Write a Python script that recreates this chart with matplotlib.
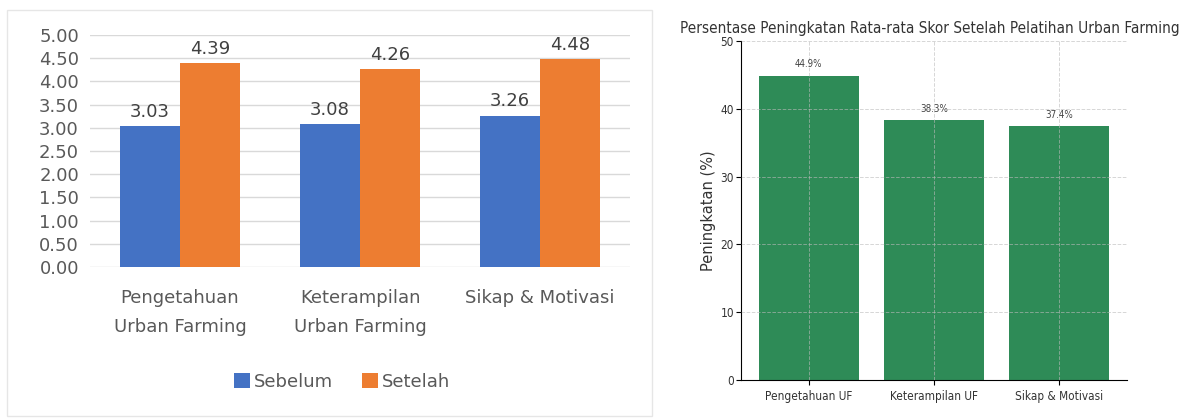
import matplotlib
matplotlib.use("Agg")
import matplotlib.pyplot as plt
from matplotlib.patches import Rectangle

# left chart: average score before / after
categories_left = ["Pengetahuan\nUrban Farming", "Keterampilan\nUrban Farming", "Sikap & Motivasi"]
sebelum = [3.03, 3.08, 3.26]
setelah = [4.39, 4.26, 4.48]
yticks_left = [0.0, 0.5, 1.0, 1.5, 2.0, 2.5, 3.0, 3.5, 4.0, 4.5, 5.0]

# right chart: percentage increase
categories_right = ["Pengetahuan UF", "Keterampilan UF", "Sikap & Motivasi"]
peningkatan = [44.9, 38.3, 37.4]

W, H = 1189, 418
fig = plt.figure(figsize=(W / 100, H / 100), dpi=100)


def box(x0, y0, x1, y1):
    # pixel box (top-left origin) -> figure fraction rect
    return [x0 / W, 1 - y1 / H, (x1 - x0) / W, (y1 - y0) / H]


# ---- left panel (Excel style) ----
fig.patches.append(Rectangle((7 / W, 1 - 416 / H), 645 / W, 406 / H,
                             transform=fig.transFigure, fill=False,
                             edgecolor="#E6E6E6", linewidth=1.0))

xfont = "DejaVu Sans"
grey = "#595959"
ax1 = fig.add_axes(box(90, 35, 630, 267))
x = range(len(categories_left))
bw = 0.333
b1 = ax1.bar([i - bw / 2 for i in x], sebelum, bw, color="#4472C4", label="Sebelum", zorder=3)
b2 = ax1.bar([i + bw / 2 for i in x], setelah, bw, color="#ED7D31", label="Setelah", zorder=3)
for bars, vals in ((b1, sebelum), (b2, setelah)):
    for r, v in zip(bars, vals):
        ax1.annotate(f"{v:.2f}", (r.get_x() + r.get_width() / 2, v),
                     xytext=(0, 4), textcoords="offset points",
                     ha="center", va="bottom", fontsize=13, color="#404040",
                     family=xfont)
ax1.set_xlim(-0.5, 2.5)
ax1.set_ylim(0, 5)
ax1.set_yticks(yticks_left)
ax1.set_yticklabels([f"{v:.2f}" for v in yticks_left], fontsize=13, color=grey, family=xfont)
ax1.set_xticks(list(x))
ax1.set_xticklabels(categories_left, fontsize=13, color=grey, family=xfont, linespacing=1.75)
ax1.tick_params(axis="both", length=0)
ax1.tick_params(axis="x", pad=16)
ax1.tick_params(axis="y", pad=8)
ax1.grid(axis="y", color="#D9D9D9", linewidth=1.0, zorder=0)
for s in ax1.spines.values():
    s.set_visible(False)

fig.legend(handles=[b1, b2], loc="center", bbox_to_anchor=(342 / W, 1 - 382 / H),
           ncol=2, frameon=False, handlelength=0.9, handleheight=0.9,
           handletextpad=0.2, columnspacing=1.6,
           prop={"family": xfont, "size": 13}, labelcolor=grey)

# ---- right panel (matplotlib style) ----
cfont = {"family": "DejaVu Sans", "stretch": "condensed"}
ax2 = fig.add_axes(box(741, 41, 1127, 380))
bars = ax2.bar(categories_right, peningkatan, color="#2E8B57", width=0.8)
for r, v in zip(bars, peningkatan):
    ax2.text(r.get_x() + r.get_width() / 2, v + 1, f"{v}%", ha="center", va="bottom",
             fontsize=7, color="#444444", **cfont)
ax2.set_ylim(0, 50)
ax2.set_yticks([0, 10, 20, 30, 40, 50])
ax2.set_title("Persentase Peningkatan Rata-rata Skor Setelah Pelatihan Urban Farming",
              fontsize=11, color="#333333", pad=6, x=0.49, **cfont)
ax2.set_ylabel("Peningkatan (%)", fontsize=10.5, color="#333333")
ax2.yaxis.set_label_coords(-0.065, 0.5)
for lab in ax2.get_xticklabels() + ax2.get_yticklabels():
    lab.set_fontfamily("DejaVu Sans")
    lab.set_fontstretch("condensed")
    lab.set_fontsize(8.5)
    lab.set_color("#333333")
ax2.tick_params(axis="y", pad=1.5)
ax2.grid(True, linestyle="--", color="#BBBBBB", alpha=0.6, linewidth=0.7)
ax2.set_axisbelow(False)
ax2.spines["top"].set_visible(False)
ax2.spines["right"].set_visible(False)

fig.savefig("out.png", dpi=100)
